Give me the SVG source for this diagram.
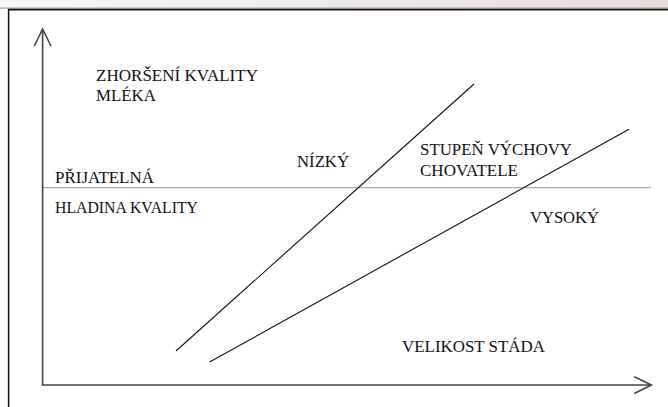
<svg xmlns="http://www.w3.org/2000/svg" width="668" height="407" viewBox="0 0 668 407">
<defs>
<linearGradient id="bg" x1="0" y1="0" x2="1" y2="0">
<stop offset="0" stop-color="#f7f7f7"/>
<stop offset="1" stop-color="#e8dfdd"/>
</linearGradient>
<style>
.t{font-family:'Liberation Serif','Times New Roman',serif;font-size:17.5px;fill:#111}
.axis{stroke:#444;stroke-width:1.6;fill:none}
.ln{stroke:#111;stroke-width:1.1;fill:none}
</style>
</defs>
<rect x="0" y="0" width="668" height="407" fill="#fff"/>
<rect x="0" y="0" width="668" height="8" fill="url(#bg)"/>
<rect x="0" y="7.5" width="668" height="1.2" fill="#999"/>
<line x1="8" y1="9.6" x2="668" y2="9.6" stroke="#111" stroke-width="1.6"/>
<line x1="8.6" y1="9" x2="8.6" y2="407" stroke="#111" stroke-width="1.5"/>
<g id="connectors">
<path class="axis" d="M42.6,385.5 V29 M34.3,46 L42.6,29 L51,46"/>
<path class="axis" d="M42,385 H651 M634.3,376.7 L651.5,385 L634.3,393.5"/>
<line x1="42.6" y1="187.7" x2="651" y2="187.7" stroke="#333" stroke-width="1" stroke-dasharray="1,1"/>
<line class="ln" x1="176" y1="351" x2="474" y2="84"/>
<line class="ln" x1="209.6" y1="362" x2="629" y2="129.3"/>
</g>
<g class="t">
<g id="t-zhorseni"><text x="96" y="81" textLength="162" lengthAdjust="spacingAndGlyphs">ZHORŠENÍ KVALITY</text><text x="96" y="101" textLength="60" lengthAdjust="spacingAndGlyphs">MLÉKA</text></g>
<g id="t-nizky"><text x="297" y="166.7" textLength="52" lengthAdjust="spacingAndGlyphs">NÍZKÝ</text></g>
<g id="t-stupen"><text x="420" y="155" textLength="152" lengthAdjust="spacingAndGlyphs">STUPEŇ VÝCHOVY</text><text x="420" y="176" textLength="98" lengthAdjust="spacingAndGlyphs">CHOVATELE</text></g>
<g id="t-prijatelna"><text x="55" y="182.7" textLength="99" lengthAdjust="spacingAndGlyphs">PŘIJATELNÁ</text></g>
<g id="t-hladina"><text x="55" y="213" textLength="143" lengthAdjust="spacingAndGlyphs">HLADINA KVALITY</text></g>
<g id="t-vysoky"><text x="530" y="222.7" textLength="69" lengthAdjust="spacingAndGlyphs">VYSOKÝ</text></g>
<g id="t-velikost"><text x="402" y="351.7" textLength="143" lengthAdjust="spacingAndGlyphs">VELIKOST STÁDA</text></g>
</g>
</svg>
